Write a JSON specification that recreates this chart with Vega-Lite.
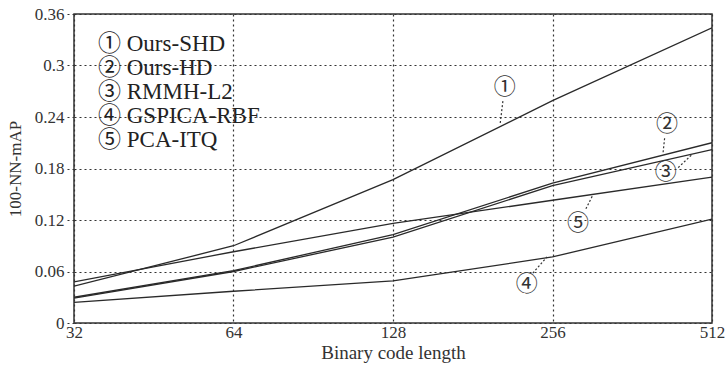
{
  "$schema": "https://vega.github.io/schema/vega-lite/v6.json",
  "width": 638,
  "height": 309,
  "autosize": "none",
  "padding": {"left": 74, "top": 14, "right": 15, "bottom": 49},
  "background": "white",
  "config": {
    "view": {"stroke": "#333", "strokeWidth": 1.5},
    "font": "Liberation Serif",
    "axis": {
      "labelFont": "Liberation Serif",
      "titleFont": "Liberation Serif",
      "labelColor": "#333",
      "titleColor": "#333",
      "labelFontSize": 17,
      "titleFontSize": 18,
      "titleFontWeight": "normal",
      "grid": true,
      "gridColor": "#333",
      "gridDash": [2, 3],
      "gridWidth": 1.2,
      "gridOpacity": 1,
      "domain": false,
      "tickColor": "#333",
      "tickDash": [2, 3],
      "tickSize": 7,
      "tickWidth": 1.2
    }
  },
  "datasets": {
    "series": [
      {"method": "Ours-SHD", "bits": 32, "map": 0.043},
      {"method": "Ours-SHD", "bits": 64, "map": 0.090},
      {"method": "Ours-SHD", "bits": 128, "map": 0.167},
      {"method": "Ours-SHD", "bits": 256, "map": 0.259},
      {"method": "Ours-SHD", "bits": 512, "map": 0.344},
      {"method": "Ours-HD", "bits": 32, "map": 0.030},
      {"method": "Ours-HD", "bits": 64, "map": 0.061},
      {"method": "Ours-HD", "bits": 128, "map": 0.103},
      {"method": "Ours-HD", "bits": 256, "map": 0.163},
      {"method": "Ours-HD", "bits": 512, "map": 0.210},
      {"method": "RMMH-L2", "bits": 32, "map": 0.029},
      {"method": "RMMH-L2", "bits": 64, "map": 0.060},
      {"method": "RMMH-L2", "bits": 128, "map": 0.100},
      {"method": "RMMH-L2", "bits": 256, "map": 0.160},
      {"method": "RMMH-L2", "bits": 512, "map": 0.202},
      {"method": "GSPICA-RBF", "bits": 32, "map": 0.024},
      {"method": "GSPICA-RBF", "bits": 64, "map": 0.037},
      {"method": "GSPICA-RBF", "bits": 128, "map": 0.049},
      {"method": "GSPICA-RBF", "bits": 256, "map": 0.077},
      {"method": "GSPICA-RBF", "bits": 512, "map": 0.121},
      {"method": "PCA-ITQ", "bits": 32, "map": 0.048},
      {"method": "PCA-ITQ", "bits": 64, "map": 0.083},
      {"method": "PCA-ITQ", "bits": 128, "map": 0.116},
      {"method": "PCA-ITQ", "bits": 256, "map": 0.143},
      {"method": "PCA-ITQ", "bits": 512, "map": 0.170}
    ],
    "tags": [
      {"tag": "①", "bits": 208, "map": 0.275},
      {"tag": "②", "bits": 421, "map": 0.232},
      {"tag": "③", "bits": 419, "map": 0.176},
      {"tag": "④", "bits": 229, "map": 0.045},
      {"tag": "⑤", "bits": 286, "map": 0.117}
    ],
    "leaders": [
      {"id": "1", "bits": 206.5, "map": 0.260},
      {"id": "1", "bits": 204, "map": 0.233},
      {"id": "2", "bits": 417, "map": 0.217},
      {"id": "2", "bits": 414, "map": 0.199},
      {"id": "3", "bits": 442, "map": 0.181},
      {"id": "3", "bits": 469, "map": 0.196},
      {"id": "4", "bits": 235, "map": 0.058},
      {"id": "4", "bits": 250, "map": 0.077},
      {"id": "5", "bits": 296, "map": 0.133},
      {"id": "5", "bits": 305, "map": 0.149}
    ]
  },
  "layer": [
    {
      "data": {"name": "series"},
      "mark": {"type": "line", "strokeWidth": 1.3, "clip": true},
      "encoding": {
        "x": {
          "field": "bits", "type": "quantitative",
          "scale": {"type": "log", "base": 2, "domain": [32, 512], "nice": false},
          "axis": {"values": [32, 64, 128, 256, 512], "title": "Binary code length", "titleFontSize": 19, "titlePadding": 3, "labelPadding": 1, "tickSize": 0, "labelFlush": false}
        },
        "y": {
          "field": "map", "type": "quantitative",
          "scale": {"domain": [0, 0.36], "nice": false},
          "axis": {"values": [0, 0.06, 0.12, 0.18, 0.24, 0.3, 0.36], "format": "~g", "title": "100-NN-mAP", "titleFontSize": 17, "titlePadding": 10, "labelPadding": 3}
        },
        "color": {
          "field": "method", "type": "nominal",
          "scale": {"domain": ["Ours-SHD", "Ours-HD", "RMMH-L2", "GSPICA-RBF", "PCA-ITQ"], "range": ["#2a2a2a", "#2a2a2a", "#2a2a2a", "#2a2a2a", "#2a2a2a"]},
          "legend": {
            "title": null,
            "orient": "none",
            "legendX": 1,
            "legendY": 18,
            "symbolSize": 0,
            "symbolStrokeWidth": 0,
            "symbolOpacity": 0,
            "labelOffset": 0,
            "labelFont": "Liberation Serif, Noto Sans CJK SC",
            "labelFontSize": 23,
            "labelColor": "#222",
            "labelLimit": 300,
            "rowPadding": 0,
            "labelExpr": "['①','②','③','④','⑤'][indexof(['Ours-SHD','Ours-HD','RMMH-L2','GSPICA-RBF','PCA-ITQ'], datum.label)] + ' ' + datum.label"
          }
        }
      }
    },
    {
      "data": {"name": "leaders"},
      "mark": {"type": "line", "strokeWidth": 1.2, "strokeDash": [2, 2], "color": "#333"},
      "encoding": {
        "x": {"field": "bits", "type": "quantitative"},
        "y": {"field": "map", "type": "quantitative"},
        "detail": {"field": "id"}
      }
    },
    {
      "data": {"name": "tags"},
      "mark": {"type": "text", "fontSize": 22, "font": "Noto Sans CJK SC", "color": "#333", "align": "center", "baseline": "middle"},
      "encoding": {
        "x": {"field": "bits", "type": "quantitative"},
        "y": {"field": "map", "type": "quantitative"},
        "text": {"field": "tag"}
      }
    }
  ]
}
